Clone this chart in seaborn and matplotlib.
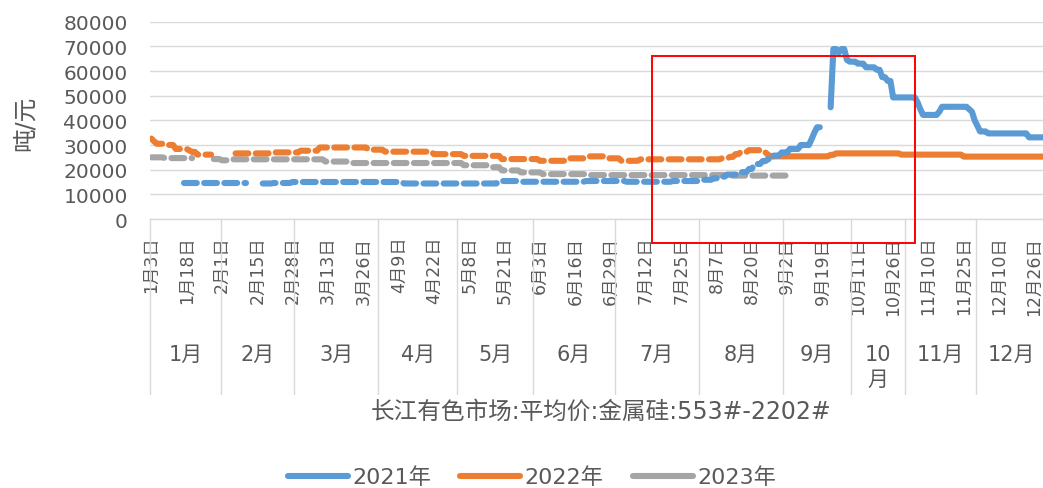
import numpy as np
import pandas as pd
import matplotlib
matplotlib.use('Agg')
import matplotlib.pyplot as plt
from matplotlib.lines import Line2D
from matplotlib.patches import Rectangle
import seaborn as sns

NA = np.nan

# --- Data ---
MONTH_NAMES = ['1月', '2月', '3月', '4月', '5月', '6月', '7月', '8月', '9月', '10\n月', '11月', '12月']
MONTH_DAYS = [26, 27, 31, 29, 28, 30, 31, 31, 25, 20, 26, 26]   # categories per month

TICK_LABELS = ['1月3日', '1月18日', '2月1日', '2月15日', '2月28日', '3月13日', '3月26日',
               '4月9日', '4月22日', '5月8日', '5月21日', '6月3日', '6月16日', '6月29日',
               '7月12日', '7月25日', '8月7日', '8月20日', '9月2日', '9月19日', '10月11日',
               '10月26日', '11月10日', '11月25日', '12月10日', '12月26日']
TICK_STEP = 13

# (price, number of days) runs
RUNS_2021 = [(NA, 12), (14500, 24), (NA, 5), (14400, 4), (14600, 7), (15000, 41),
             (14400, 35), (15400, 8), (15100, 24), (15400, 15), (15100, 17), (15400, 10),
             (15900, 5), (16500, 3), (17200, 2), (18000, 4), (19000, 4), (20300, 2),
             (22300, 3), (23500, 2), (24300, 2), (25700, 3), (27000, 3), (28400, 4),
             (30000, 4), (32400, 1), (35000, 1), (37200, 2), (NA, 3), (45300, 1),
             (68900, 2), (67500, 1), (68900, 2), (64500, 1), (63800, 3), (63000, 3),
             (61500, 4), (60500, 2), (57500, 2), (56000, 2), (49300, 9), (47300, 1),
             (44500, 1), (42200, 6), (43500, 1), (45500, 10), (44500, 1), (43500, 1),
             (40000, 1), (37800, 1), (35500, 3), (34700, 15), (33100, 7)]

RUNS_2022 = [(32600, 1), (31500, 1), (30500, 3), (30000, 4), (28400, 5), (27800, 1),
             (27200, 2), (26100, 6), (NA, 8), (26600, 13), (27000, 11), (27700, 7),
             (29000, 18), (28100, 6), (27300, 18), (26300, 11), (25600, 14), (24300, 14),
             (23600, 10), (24600, 7), (25400, 8), (24600, 5), (23600, 7), (24200, 30),
             (24600, 3), (25200, 2), (26300, 2), (27200, 3), (27900, 6), (27000, 1),
             (26000, 1), (25400, 22), (26000, 2), (26600, 24), (26100, 23), (25300, 31)]

RUNS_2023 = [(25000, 5), (24700, 11), (NA, 7), (24300, 3), (23800, 3), (24200, 35),
             (23300, 10), (22700, 41), (21800, 10), (21000, 4), (19700, 7), (18900, 8),
             (18200, 17), (17800, 52), (17600, 22), (NA, 95)]

YEARS = ['2021年', '2022年', '2023年']
COLORS = ['#5B9BD5', '#ED7D31', '#A5A5A5']
SOLID_FROM = [229, 229, 10_000]   # daily data (drawn solid) from this category on

GRID = '#D9D9D9'
TEXT = '#595959'
LW = 4.4


def expand(runs):
    return np.concatenate([np.full(n, v, dtype=float) for v, n in runs])


def to_frames(values, label, solid_from):
    idx = np.arange(len(values))
    ok = ~np.isnan(values)
    run = np.cumsum(np.r_[True, ok[1:] != ok[:-1]])
    out = []
    for r in np.unique(run[ok]):
        sel = idx[run == r]
        for kind, part in (('dash', sel[sel <= solid_from]), ('solid', sel[sel >= solid_from])):
            if len(part) > 1:
                out.append(pd.DataFrame({'x': part, 'price': values[part], 'year': label,
                                         'kind': kind, 'unit': f'{label}-{r}-{kind}'}))
    return out


n_cat = sum(MONTH_DAYS)
frames = []
for runs, label, sf in zip([RUNS_2021, RUNS_2022, RUNS_2023], YEARS, SOLID_FROM):
    vals = expand(runs)[:n_cat]
    frames += to_frames(vals, label, sf)
df = pd.concat(frames, ignore_index=True)

# --- Style ---
sns.set_theme(style='white')
plt.rcParams['font.family'] = ['DejaVu Sans', 'Noto Sans CJK SC']

fig = plt.figure(figsize=(10.43, 4.89), dpi=100)
ax = fig.add_axes([0.1438, 0.5501, 0.8597, 0.4035])

sns.lineplot(data=df, x='x', y='price', hue='year', style='kind', units='unit',
             estimator=None, palette=dict(zip(YEARS, COLORS)),
             dashes={'dash': (2.1, 1.2), 'solid': ''},
             legend=False, ax=ax, hue_order=YEARS[::-1])
for ln in ax.lines:
    ln.set_linewidth(LW)
    ln.set_dash_capstyle('round')
    ln.set_solid_capstyle('round')
    ln.set_solid_joinstyle('round')

ax.set_xlim(-0.5, n_cat - 0.5)
ax.set_ylim(0, 80000)
ax.set_yticks(range(0, 80001, 10000))
ax.yaxis.grid(True, color=GRID, lw=1)
ax.xaxis.grid(False)
ax.set_axisbelow(True)
for s in ['top', 'right', 'left']:
    ax.spines[s].set_visible(False)
ax.spines['bottom'].set_color(GRID)
ax.spines['bottom'].set_linewidth(1)
ax.tick_params(axis='y', length=0, pad=16, labelsize=14.5, labelcolor=TEXT)

ax.set_xticks(np.arange(0, n_cat, TICK_STEP)[:len(TICK_LABELS)])
ax.set_xticklabels(TICK_LABELS, rotation=90, fontsize=12.5, color=TEXT)
ax.tick_params(axis='x', length=0, pad=12)
ax.set_xlabel('')
ax.set_ylabel('')

# month groups with separators
xt = ax.get_xaxis_transform()
bounds = np.r_[0, np.cumsum(MONTH_DAYS)] - 0.5
for b in bounds:
    ax.plot([b, b], [0, -0.887], transform=xt, clip_on=False, color=GRID, lw=1)
for name, lo, hi in zip(MONTH_NAMES, bounds[:-1], bounds[1:]):
    ax.text((lo + hi) / 2, -0.634, name, transform=xt, ha='center', va='top',
            fontsize=15, color=TEXT, linespacing=1.3)

fig.text(25 / 1043, 1 - 123 / 489, '吨/元', rotation=90, ha='center', va='center',
         fontsize=17, color=TEXT)
fig.text(601 / 1043, 1 - 412 / 489, '长江有色市场:平均价:金属硅:553#-2202#',
         ha='center', va='center', fontsize=17, color=TEXT)

handles = [Line2D([], [], color=c, lw=LW, solid_capstyle='round') for c in COLORS]
leg = fig.legend(handles, YEARS, loc='center', bbox_to_anchor=(532 / 1043, 1 - 478 / 489),
                 ncol=3, frameon=False, fontsize=16, handlelength=2.7,
                 handletextpad=0.2, columnspacing=1.3)
for t in leg.get_texts():
    t.set_color(TEXT)

# red highlight box
fig.patches.append(Rectangle((652 / 1043, 1 - 244 / 489), 263 / 1043, 187 / 489,
                             transform=fig.transFigure, fill=False, ec='#FF0000', lw=1.4))

fig.savefig('out.png', dpi=100)
